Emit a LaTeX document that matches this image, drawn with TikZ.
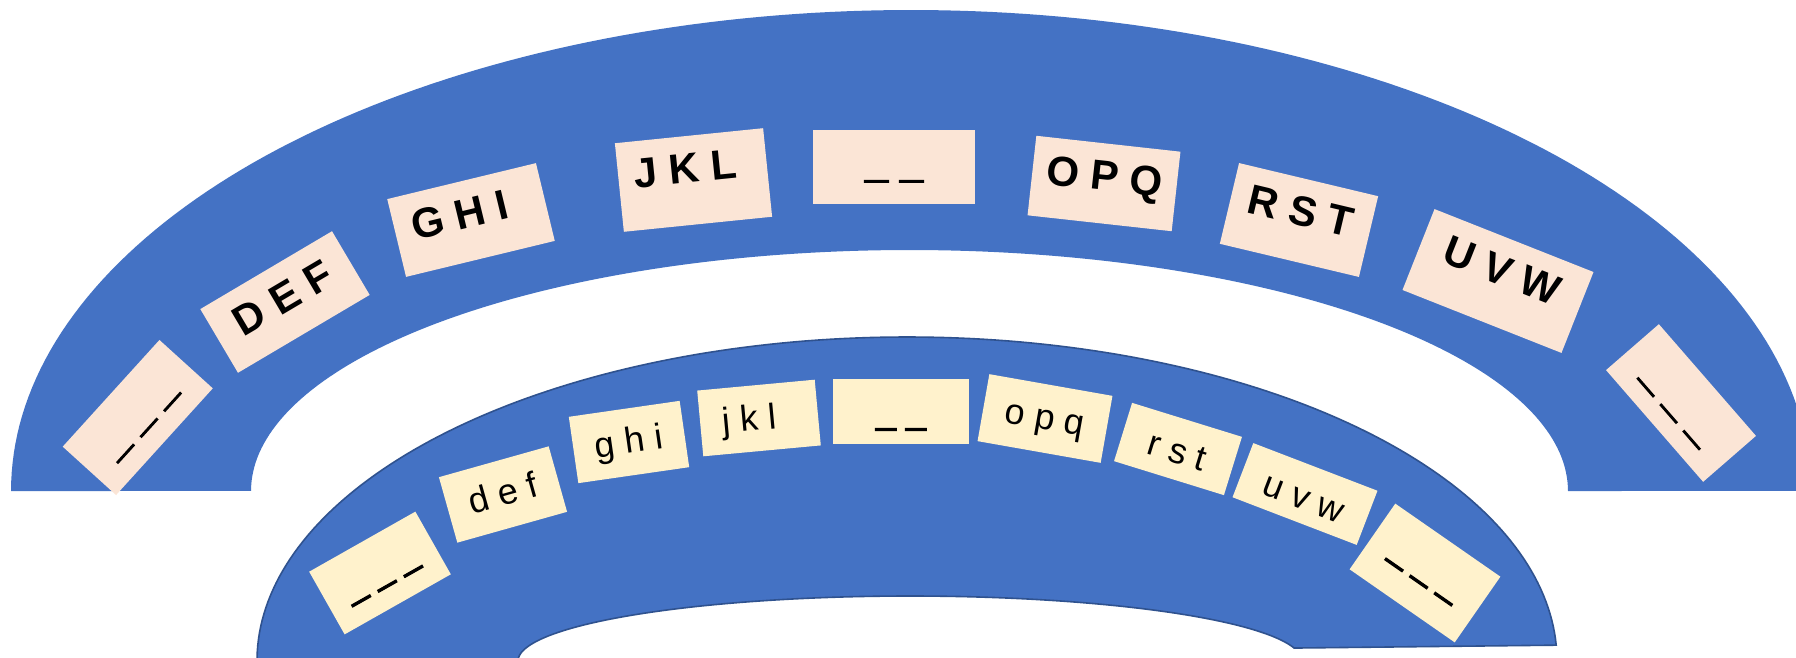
\documentclass[tikz,border=0pt]{standalone}
\usepackage{fontspec}
\setmainfont{Liberation Sans}
\newfontfamily\ulfont{Liberation Sans}[FakeBold=3]
\newfontfamily\ulboldfont{Liberation Sans Bold}[FakeBold=3]
\definecolor{bandblue}{HTML}{4472C4}
\definecolor{edgeblue}{HTML}{2F528F}
\definecolor{peach}{HTML}{FBE5D6}
\definecolor{cream}{HTML}{FFF2CC}
\begin{document}
\begin{tikzpicture}[x=0.5pt,y=-0.5pt,
  obox/.style={fill=peach, inner sep=0pt, font=\bfseries\fontsize{21pt}{21pt}\selectfont, text height=23.5pt},
  ibox/.style={fill=cream, inner sep=0pt, font=\fontsize{18pt}{18pt}\selectfont, text height=22.5pt},
  oblank/.style={obox, font=\ulboldfont\fontsize{21pt}{21pt}\selectfont},
  iblank/.style={ibox, font=\ulfont\fontsize{18pt}{18pt}\selectfont},
  band/.style={fill=bandblue},
  lowband/.style={fill=bandblue, draw=edgeblue, line width=0.8pt}]
\useasboundingbox (0,0) rectangle (1796,658);
\fill[white] (0,0) rectangle (1796,658);
\begin{scope}
\clip (0,0) rectangle (1796,658);
% upper band
\fill[band] plot[domain=180:0,samples=160] ({911+900*cos(\x)},{491-481*sin(\x)})
  -- plot[domain=0:180,samples=160] ({909.5+658.5*cos(\x)},{491-241*sin(\x)}) -- cycle;
% upper boxes
\node[oblank, minimum width=72pt, minimum height=36pt, text depth=12.5pt, rotate=47.8] (o1) at (137.75,417.5) {\_ \_ \_};
\node[obox, minimum width=76.5pt, minimum height=37pt, text depth=13.5pt, rotate=30.6] (o2) at (285,302) {D E F};
\node[obox, minimum width=76.5pt, minimum height=40pt, text depth=16.5pt, rotate=13.6] (o3) at (471,220) {G H I\kern10pt};
\node[obox, minimum width=74.5pt, minimum height=44.5pt, text depth=21pt, rotate=5.8] (o4) at (693.5,180) {J K L\kern7pt};
\node[oblank, minimum width=81pt, minimum height=37pt, text depth=13.5pt] (o5) at (894,167) {\_ \_};
\node[obox, minimum width=72.5pt, minimum height=40pt, text depth=16.5pt, rotate=-6.3] (o6) at (1104,183.5) {O P Q};
\node[obox, minimum width=71.5pt, minimum height=41.5pt, text depth=18pt, rotate=-13.4] (o7) at (1299,220) {R S T};
\node[obox, minimum width=85.5pt, minimum height=43.5pt, text depth=20pt, rotate=-21.6] (o8) at (1498,281) {U V W};
\node[oblank, minimum width=74pt, minimum height=35pt, text depth=11.5pt, rotate=-49] (o9) at (1681,403) {\_ \_ \_};
% lower band
\filldraw[lowband] plot[domain=180.6:2.8,samples=160] ({907+650*cos(\x)},{661-324*sin(\x)})
  -- plot[domain=11.5:181,samples=120] ({910+392*cos(\x)},{661-65*sin(\x)}) -- cycle;
% lower boxes
\node[iblank, minimum width=61pt, minimum height=36pt, text depth=13.5pt, rotate=29.5] (i1) at (380,573) {\_ \_ \_};
\node[ibox, minimum width=57pt, minimum height=34pt, text depth=11.5pt, rotate=15.7] (i2) at (503,494.5) {d e f};
\node[ibox, minimum width=56pt, minimum height=33.5pt, text depth=11pt, rotate=8.2] (i3) at (629,442) {g h i};
\node[ibox, minimum width=59pt, minimum height=33pt, text depth=10.5pt, rotate=5.3] (i4) at (759,418) {j k l\kern10pt};
\node[iblank, minimum width=68pt, minimum height=32.5pt, text depth=10pt] (i5) at (901,411) {\_ \_};
\node[ibox, minimum width=62.5pt, minimum height=34pt, text depth=11.5pt, rotate=-10] (i6) at (1045,418.5) {o p q};
\node[ibox, minimum width=57.5pt, minimum height=30.5pt, text depth=8pt, rotate=-17.2] (i7) at (1178,449) {r s t};
\node[ibox, minimum width=66.5pt, minimum height=29pt, text depth=6.5pt, rotate=-21] (i8) at (1305,494) {u v w};
\node[iblank, minimum width=64pt, minimum height=40pt, text depth=17.5pt, rotate=-34.8] (i9) at (1425,573) {\_ \_ \_};
\end{scope}
\end{tikzpicture}
\end{document}
